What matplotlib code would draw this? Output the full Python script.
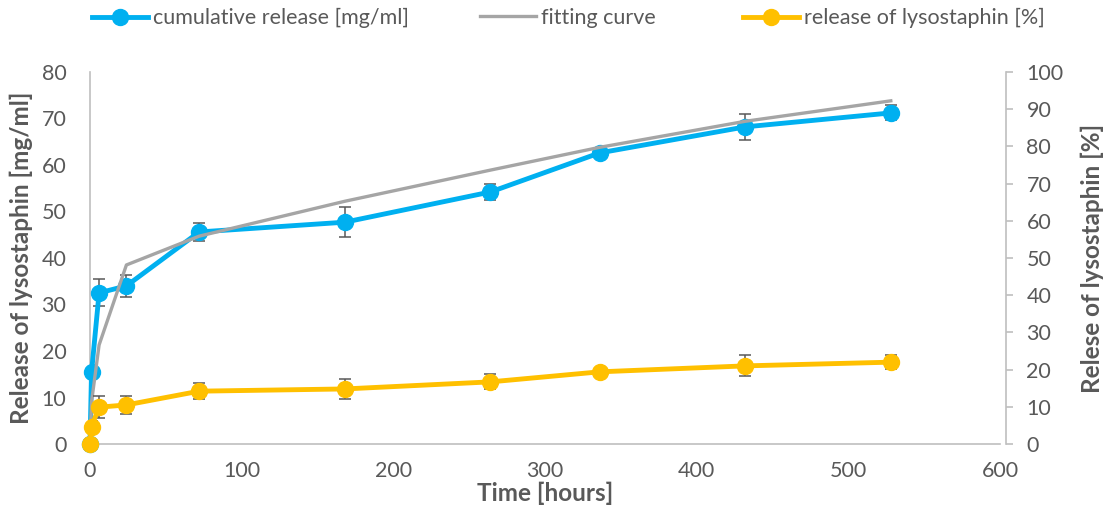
import matplotlib
matplotlib.use("Agg")
import matplotlib.pyplot as plt

plt.rcParams['font.family'] = ['Lato', 'DejaVu Sans']

time_h = [0, 1, 6, 24, 72, 168, 264, 336, 432, 528]
cumulative = [0, 15.4, 32.5, 34.0, 45.6, 47.7, 54.2, 62.6, 68.2, 71.2]
cumulative_err = [0, 0, 2.9, 2.4, 2.0, 3.2, 1.8, 0.8, 2.8, 1.6]
fitting = [0, 9.0, 21.3, 38.5, 44.7, 52.2, 58.9, 63.8, 69.4, 73.8]
percent = [0, 4.7, 9.9, 10.5, 14.2, 14.8, 16.7, 19.4, 21.0, 22.0]
percent_err = [0, 1.5, 3.0, 2.4, 2.2, 2.8, 2.0, 1.0, 2.8, 1.9]

x_ticks = [0, 100, 200, 300, 400, 500, 600]
left_ticks = [0, 10, 20, 30, 40, 50, 60, 70, 80]
right_ticks = [0, 10, 20, 30, 40, 50, 60, 70, 80, 90, 100]

BLUE = '#00B0F0'
GRAY = '#A5A5A5'
YELLOW = '#FFC000'
TXT = '#595959'
AX = '#BFBFBF'

fig = plt.figure(figsize=(11.08, 5.18), dpi=100)
ax = fig.add_axes([90/1108, 74/518, 910/1108, 372/518])
ax2 = ax.twinx()

ax.errorbar(time_h, cumulative, yerr=cumulative_err, fmt='none', ecolor=TXT,
            elinewidth=1.1, capsize=4.5, capthick=1.1, zorder=2)
h1 = ax.plot(time_h, cumulative, color=BLUE, lw=3.5, marker='o', ms=11.5,
             label='cumulative release [mg/ml]', zorder=3, clip_on=False)[0]
h2 = ax.plot(time_h, fitting, color=GRAY, lw=2.4, label='fitting curve',
             zorder=4, clip_on=False)[0]

ax2.errorbar(time_h, percent, yerr=percent_err, fmt='none', ecolor=TXT,
             elinewidth=1.1, capsize=4.5, capthick=1.1, zorder=2)
h3 = ax2.plot(time_h, percent, color=YELLOW, lw=3.5, marker='o', ms=11.5,
              label='release of lysostaphin [%]', zorder=3, clip_on=False)[0]

ax.set_xlim(0, 600)
ax.set_ylim(0, 80)
ax2.set_ylim(0, 100)
ax.set_xticks(x_ticks)
ax.set_yticks(left_ticks)
ax2.set_yticks(right_ticks)

for a in (ax, ax2):
    for s in a.spines.values():
        s.set_visible(False)
    a.set_facecolor('none')
ax.spines['left'].set_visible(True)
ax.spines['left'].set_color(AX)
ax.spines['bottom'].set_visible(True)
ax.spines['bottom'].set_color(AX)
ax2.spines['right'].set_visible(True)
ax2.spines['right'].set_color(AX)
ax2.spines['right'].set_position(('outward', 4))
for s in (ax.spines['left'], ax.spines['bottom'], ax2.spines['right']):
    s.set_linewidth(1.2)

ax.tick_params(axis='x', length=0, labelsize=15.5, labelcolor=TXT, pad=12)
ax.tick_params(axis='y', length=0, labelsize=15.5, labelcolor=TXT, pad=17)
ax2.tick_params(axis='y', length=5, width=1.2, color=AX, direction='out',
                labelsize=15.5, labelcolor=TXT, pad=10)

ax.set_xlabel('Time [hours]', fontsize=17.5, fontweight='bold', color=TXT, labelpad=1)
ax.set_ylabel('Release of lysostaphin [mg/ml]', fontsize=17.5, fontweight='bold',
              color=TXT, labelpad=6)
ax2.set_ylabel('Relese of lysostaphin [%]', fontsize=17.5, fontweight='bold',
               color=TXT, labelpad=12)

ax.set_zorder(ax2.get_zorder() - 1)

legend_x = [92/1108, 480/1108, 743/1108]
for h, lx in zip((h1, h2, h3), legend_x):
    lg = fig.legend([h], [h.get_label()], loc='center left',
                    bbox_to_anchor=(lx, 1 - 18/518), frameon=False,
                    fontsize=15.5, labelcolor=TXT, handlelength=2.6,
                    handletextpad=0.25, borderaxespad=0, borderpad=0)

fig.savefig('out.png', dpi=100)
